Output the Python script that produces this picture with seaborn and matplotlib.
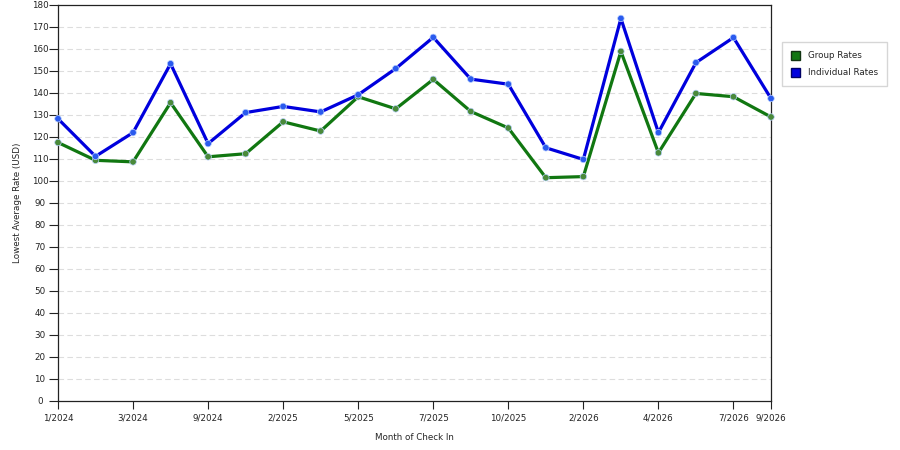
import pandas as pd
import matplotlib.pyplot as plt
import seaborn as sns
from matplotlib.patches import Patch

# Data (20 months, only some labelled)
group_rates = [117.5, 109.4, 108.7, 135.6, 111.0, 112.4, 126.9, 122.7, 138.3, 132.8,
               146.2, 131.6, 124.1, 101.5, 102.0, 158.9, 112.8, 139.8, 138.3, 129.1]
individual_rates = [128.3, 111.2, 122.0, 153.3, 117.0, 131.1, 133.9, 131.4, 139.2, 151.1,
                    165.3, 146.3, 144.0, 115.1, 109.8, 173.9, 122.0, 153.8, 165.2, 137.5]
tick_pos = [0, 2, 4, 6, 8, 10, 12, 14, 16, 18, 19]
tick_labels = ["1/2024", "3/2024", "9/2024", "2/2025", "5/2025", "7/2025",
               "10/2025", "2/2026", "4/2026", "7/2026", "9/2026"]

series = ["Group Rates", "Individual Rates"]
line_colors = {"Group Rates": "#117711", "Individual Rates": "#0000dd"}
marker_colors = {"Group Rates": "#4a8a3a", "Individual Rates": "#2a5aee"}

n = len(group_rates)
df = pd.DataFrame({
    "month": list(range(n)) * 2,
    "rate": group_rates + individual_rates,
    "series": [series[0]] * n + [series[1]] * n,
})

sns.set_style("ticks")
plt.rcParams["font.family"] = ["DejaVu Sans"]

fig = plt.figure(figsize=(9, 4.5), dpi=100)
ax = fig.add_axes([58 / 900, 49 / 450, 713 / 900, 396 / 450])

# grid
for v in range(10, 180, 10):
    ax.axhline(v, color="#dddddd", lw=0.8, ls=(0, (5, 3)), zorder=0)

sns.lineplot(data=df, x="month", y="rate", hue="series", palette=line_colors,
             lw=2.3, legend=False, ax=ax, zorder=2, clip_on=False)
sns.scatterplot(data=df, x="month", y="rate", hue="series", palette=marker_colors,
                s=22, edgecolor="#b8d0ff", linewidth=0.5, legend=False, ax=ax,
                zorder=3, clip_on=False)

ax.set_xlim(0, n - 1)
ax.set_ylim(0, 180)
ax.set_yticks(range(0, 181, 10))
ax.set_xticks(tick_pos)
ax.set_xticklabels(tick_labels)
ax.tick_params(axis="both", labelsize=6.3, colors="#222222", width=0.8,
               direction="out")
ax.tick_params(axis="y", length=6.5, pad=6.5)
ax.tick_params(axis="x", length=6, pad=3)
for lab in ax.get_yticklabels():
    lab.set_horizontalalignment("center")
for s in ax.spines.values():
    s.set_visible(True)
    s.set_color("#222222")
    s.set_linewidth(0.9)

ax.set_xlabel("Month of Check In", fontsize=6.3)
ax.set_ylabel("Lowest Average Rate (USD)", fontsize=6.3)
ax.yaxis.set_label_coords(-36 / 713, 0.5)
ax.xaxis.set_label_coords(0.5, -32 / 396)

handles = [Patch(facecolor=line_colors[k], edgecolor="#113311" if k == series[0] else "#000066",
                 label=k) for k in series]
fig.legend(handles=handles, loc="upper left", bbox_to_anchor=(778 / 900, 1 - 38 / 450),
           fontsize=6.3, frameon=True, fancybox=False, edgecolor="#cccccc",
           handlelength=1.0, handleheight=1.1, handletextpad=0.9, borderpad=1.0,
           labelspacing=0.9)

fig.savefig("out.png", dpi=100)
